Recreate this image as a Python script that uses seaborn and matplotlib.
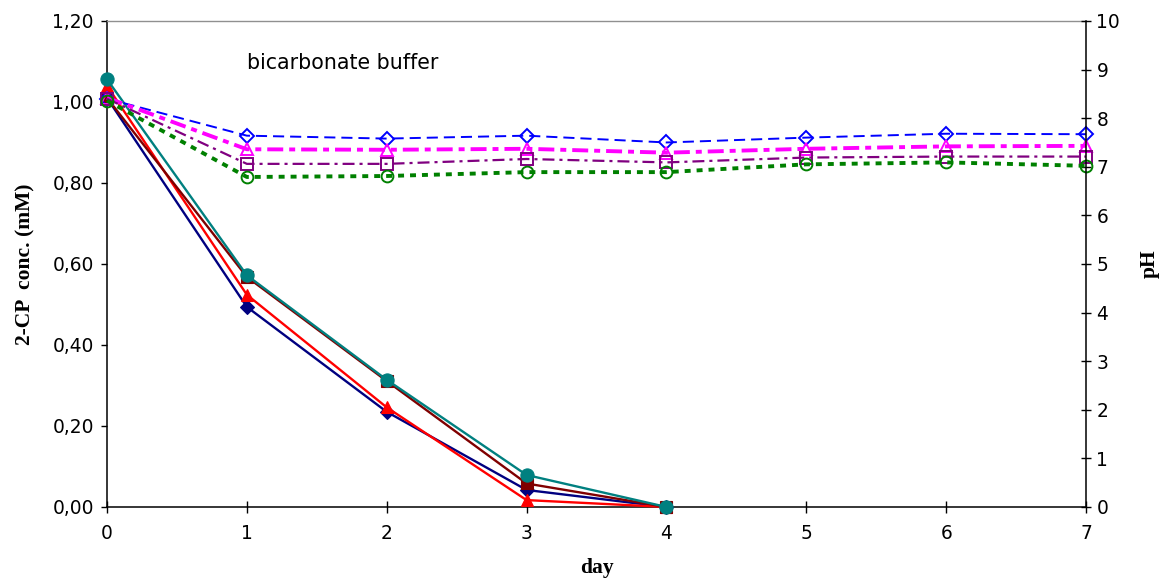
import matplotlib
matplotlib.use("Agg")
import matplotlib.pyplot as plt
import seaborn as sns
import pandas as pd
from matplotlib.ticker import FixedLocator, FuncFormatter

# ---- data ----
days_conc = [0, 1, 2, 3, 4]
conc_navy = [1.01, 0.494, 0.235, 0.042, 0.0]
conc_red = [1.04, 0.524, 0.246, 0.017, 0.0]
conc_maroon = [1.01, 0.568, 0.311, 0.058, 0.0]
conc_teal = [1.056, 0.572, 0.314, 0.079, 0.0]

days_ph = [0, 1, 2, 3, 4, 5, 6, 7]
ph_blue = [8.40, 7.64, 7.58, 7.64, 7.50, 7.60, 7.68, 7.67]
ph_magenta = [8.42, 7.36, 7.35, 7.37, 7.29, 7.37, 7.42, 7.43]
ph_purple = [8.40, 7.06, 7.06, 7.16, 7.09, 7.19, 7.21, 7.21]
ph_green = [8.36, 6.79, 6.81, 6.89, 6.89, 7.05, 7.09, 7.02]

conc_ticks = [0.0, 0.2, 0.4, 0.6, 0.8, 1.0, 1.2]
ph_ticks = list(range(0, 11))
day_ticks = list(range(0, 8))

sns.set_style("ticks")
plt.rcParams["font.family"] = ["DejaVu Sans"]
plt.rcParams["lines.scale_dashes"] = False
plt.rcParams["text.color"] = "black"
plt.rcParams["axes.labelcolor"] = "black"

fig = plt.figure(figsize=(11.63, 5.81), dpi=100)
ax = fig.add_axes([0.092, 0.1274, 0.8418, 0.8365])
ax2 = ax.twinx()

conc_series = [
    (conc_navy, "#000080", "D", 7),
    (conc_red, "#FF0000", "^", 9),
    (conc_maroon, "#800000", "s", 8),
    (conc_teal, "#008080", "o", 9.5),
]
for vals, col, mk, ms in conc_series:
    df = pd.DataFrame({"day": days_conc, "conc": vals})
    sns.lineplot(data=df, x="day", y="conc", ax=ax, color=col, linewidth=1.7,
                 marker=mk, markersize=ms, markerfacecolor=col, markeredgecolor=col,
                 markeredgewidth=0.8, clip_on=False, zorder=3)

ph_series = [
    (ph_blue, "#0000FF", "D", 7.5, 1.4, (0, (8, 4.3))),
    (ph_magenta, "#FF00FF", "^", 9, 2.8, (0, (11.5, 4.3, 4.3, 4.3))),
    (ph_purple, "#800080", "s", 8.5, 1.6, (0, (8.6, 3.6, 2.2, 3.6))),
    (ph_green, "#008000", "o", 8.5, 2.8, (0, (4.3, 4.3))),
]
for vals, col, mk, ms, lw, ls in ph_series:
    df = pd.DataFrame({"day": days_ph, "pH": vals})
    sns.lineplot(data=df, x="day", y="pH", ax=ax2, color=col, linewidth=lw,
                 linestyle=ls, marker=mk, markersize=ms, markerfacecolor="none",
                 markeredgecolor=col, markeredgewidth=1.4, clip_on=False)

ax.set_xlim(0, 7)
ax.set_ylim(0, 1.2)
ax2.set_ylim(0, 10)
ax.xaxis.set_major_locator(FixedLocator(day_ticks))
ax.yaxis.set_major_locator(FixedLocator(conc_ticks))
ax2.yaxis.set_major_locator(FixedLocator(ph_ticks))
ax.yaxis.set_major_formatter(FuncFormatter(lambda v, p: f"{v:.2f}".replace(".", ",")))
ax2.yaxis.set_major_formatter(FuncFormatter(lambda v, p: f"{int(round(v))}"))

for a in (ax, ax2):
    for s in a.spines.values():
        s.set_linewidth(1.1)
        s.set_color("black")
ax.spines["right"].set_visible(False)
ax.spines["top"].set_visible(True)
ax.spines["top"].set_color("#909090")
ax.spines["top"].set_linewidth(1.0)
ax2.spines["left"].set_visible(False)
ax2.spines["bottom"].set_visible(False)
ax2.spines["top"].set_visible(False)
ax2.spines["right"].set_visible(True)

ax.tick_params(axis="x", direction="inout", length=8, width=1.0, labelsize=13.4,
               colors="black", pad=8)
ax.tick_params(axis="y", direction="out", length=4.5, width=1.0, labelsize=13.4,
               colors="black", pad=5)
ax2.tick_params(axis="y", direction="inout", length=7, width=1.0, labelsize=13.4,
                colors="black", pad=4)

ax.set_xlabel("day", fontsize=15.5, fontweight="bold", family="Liberation Serif", color="black")
ax.set_ylabel("2-CP  conc. (mM)", fontsize=15.5, fontweight="bold", family="Liberation Serif", color="black")
ax2.set_ylabel("pH", fontsize=15.5, fontweight="bold", family="Liberation Serif", color="black")
ax.xaxis.set_label_coords(0.5, -0.104)
ax.yaxis.set_label_coords(-0.0735, 0.5)
ax2.yaxis.set_label_coords(1.0552, 0.5)

ax.text(1.0, 1.096, "bicarbonate buffer", fontsize=14.8, ha="left", va="center", color="black")

fig.savefig("out.png", dpi=100)
